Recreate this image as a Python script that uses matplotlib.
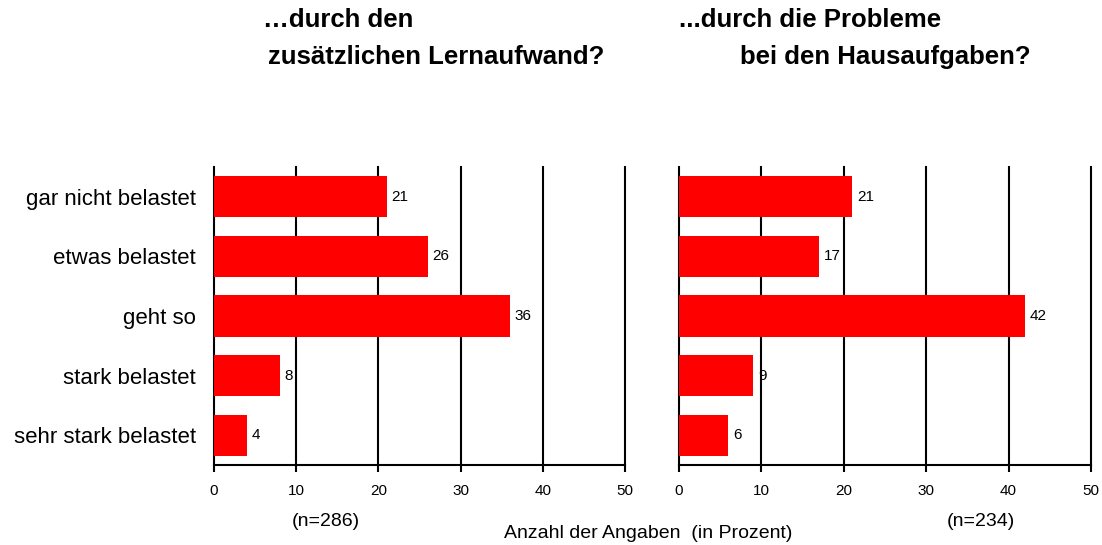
import matplotlib
matplotlib.use('Agg')
import matplotlib.pyplot as plt

categories = ['gar nicht belastet', 'etwas belastet', 'geht so', 'stark belastet', 'sehr stark belastet']
lern_values = [21, 26, 36, 8, 4]
haus_values = [21, 17, 42, 9, 6]
x_ticks = [0, 10, 20, 30, 40, 50]

plt.rcParams['font.family'] = ['Liberation Sans', 'DejaVu Sans']

fig = plt.figure(figsize=(11.02, 5.45), dpi=100)
ax1 = fig.add_axes([214/1102, 1-465/545, 411/1102, 298/545])
ax2 = fig.add_axes([679/1102, 1-465/545, 412/1102, 298/545])

ypos = list(range(len(categories)))
for ax, vals in [(ax1, lern_values), (ax2, haus_values)]:
    ax.barh(ypos, vals, height=0.69, color='#ff0000', zorder=3)
    for y, v in zip(ypos, vals):
        ax.text(v + 0.6, y, str(v), va='center', ha='left', fontsize=11, zorder=4)
    ax.set_xlim(0, 50)
    ax.set_ylim(4.5, -0.5)
    ax.set_xticks(x_ticks)
    ax.tick_params(axis='x', length=5, width=1.5, labelsize=11, pad=9)
    ax.tick_params(axis='y', length=0, labelsize=16, pad=13)
    for t in x_ticks[1:]:
        ax.axvline(t, color='black', lw=1.5, zorder=1, clip_on=False)
    ax.spines['top'].set_visible(False)
    ax.spines['right'].set_visible(False)
    ax.spines['left'].set_linewidth(1.5)
    ax.spines['bottom'].set_linewidth(1.5)

ax1.set_yticks(ypos)
ax1.set_yticklabels(categories)
ax2.set_yticks([])

fig.text(263/1102, 1-20/545, '\u2026durch den', fontsize=18.5, fontweight='bold', va='center', ha='left')
fig.text(268/1102, 1-57/545, 'zusätzlichen Lernaufwand?', fontsize=18.5, fontweight='bold', va='center', ha='left')
fig.text(679/1102, 1-20/545, '...durch die Probleme', fontsize=18.5, fontweight='bold', va='center', ha='left')
fig.text(740/1102, 1-57/545, 'bei den Hausaufgaben?', fontsize=18.5, fontweight='bold', va='center', ha='left')

fig.text(326/1102, 1-522/545, '(n=286)', fontsize=14, ha='center', va='center')
fig.text(981/1102, 1-522/545, '(n=234)', fontsize=14, ha='center', va='center')
fig.text(648/1102, 1-534/545, 'Anzahl der Angaben  (in Prozent)', fontsize=14, ha='center', va='center')

fig.savefig('out.png', dpi=100)
